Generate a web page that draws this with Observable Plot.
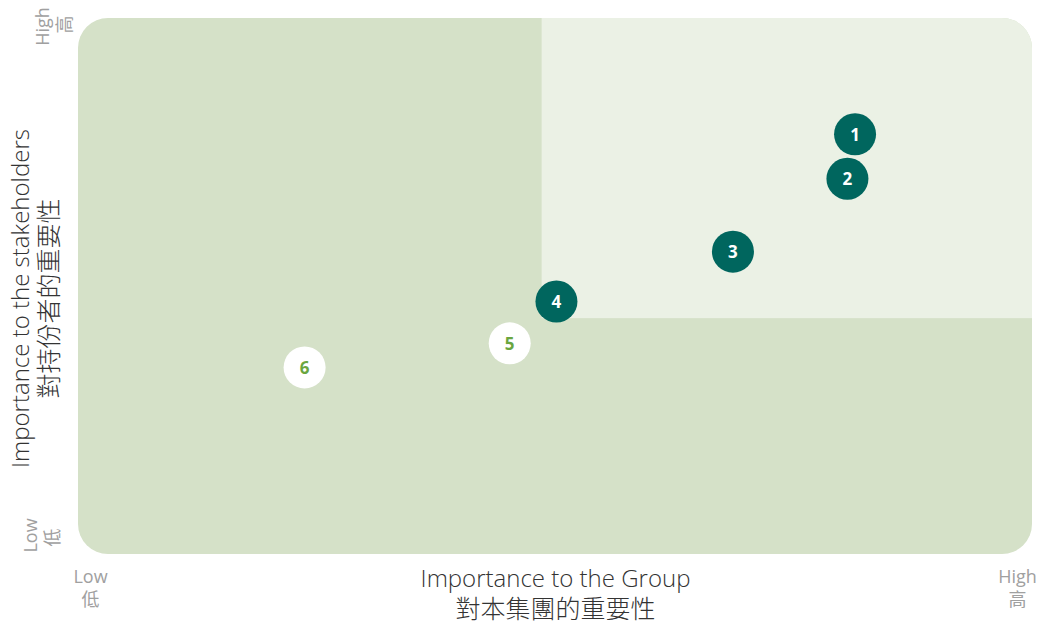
<!DOCTYPE html>
<html>
<head>
<meta charset="utf-8">
<script src="https://cdn.jsdelivr.net/npm/d3@7"></script>
<script src="https://cdn.jsdelivr.net/npm/@observablehq/plot@0.6"></script>
<style>
  html, body { margin: 0; padding: 0; background: #ffffff; }
  #chart svg { display: block; }
</style>
</head>
<body>
<div id="chart"></div>
<script>
// ---- data ----
const ids = ["1", "2", "3", "4", "5", "6"];
const groupImportance = [81.4, 80.6, 68.6, 50.1, 45.2, 23.7];        // x
const stakeholderImportance = [78.4, 70.1, 56.5, 47.2, 39.4, 34.9];  // y
const highlighted = [true, true, true, true, false, false];
const xSplit = 48.6;
const ySplit = 44.0;
const xTitleEn = "Importance to the Group";
const xTitleZh = "對本集團的重要性";
const yTitleEn = "Importance to the stakeholders";
const yTitleZh = "對持份者的重要性";
const lowLabel = ["Low", "低"];
const highLabel = ["High", "高"];

const points = ids.map((id, i) => ({id, x: groupImportance[i], y: stakeholderImportance[i], hi: highlighted[i]}));

// ---- layout / style ----
const W = 1041, H = 624;
const mL = 78, mR = 9, mT = 18, mB = 70;
const radius = 30;
const dark = "#00665e";
const bg = "#d5e1c8";
const light = "#ebf1e5";
const greenText = "#6aa63f";
const grey = "#a0a0a0";
const titleColor = "#333333";
const font = "'Open Sans', 'Noto Sans CJK TC', sans-serif";

const bgRect = [{x1: 0, x2: 100, y1: 0, y2: 100}];
const lightRect = [{x1: xSplit, x2: 100, y1: ySplit, y2: 100}];

const rectOpts = {x1: "x1", x2: "x2", y1: "y1", y2: "y2"};
const endText = {fontSize: 18, fill: grey, textAnchor: "middle"};
const titleText = {fontWeight: 300, fill: titleColor, textAnchor: "middle"};

const chart = Plot.plot({
  width: W,
  height: H,
  marginLeft: mL, marginRight: mR, marginTop: mT, marginBottom: mB,
  x: {domain: [0, 100], axis: null},
  y: {domain: [0, 100], axis: null},
  style: {fontFamily: font, background: "#ffffff", overflow: "visible"},
  marks: [
    Plot.rect(bgRect, {...rectOpts, fill: bg, rx: radius}),
    Plot.rect(lightRect, {...rectOpts, fill: light}),
    Plot.dot(points, {x: "x", y: "y", r: 21, fill: d => d.hi ? dark : "#ffffff", stroke: null}),
    Plot.text(points, {x: "x", y: "y", text: "id", fill: d => d.hi ? "#ffffff" : greenText,
      fontSize: 17, fontWeight: "bold", dy: 1}),
    // x axis title
    Plot.text([xTitleEn], {frameAnchor: "bottom", dy: 25, fontSize: 24, lineAnchor: "middle", ...titleText}),
    Plot.text([xTitleZh], {frameAnchor: "bottom", dy: 55, fontSize: 25, lineAnchor: "middle", ...titleText}),
    // x ends
    Plot.text([lowLabel[0]], {frameAnchor: "bottom-left", dx: 12, dy: 28, ...endText}),
    Plot.text([lowLabel[1]], {frameAnchor: "bottom-left", dx: 12, dy: 51, ...endText}),
    Plot.text([highLabel[0]], {frameAnchor: "bottom-right", dx: -15, dy: 28, ...endText}),
    Plot.text([highLabel[1]], {frameAnchor: "bottom-right", dx: -15, dy: 51, ...endText}),
    // y axis title
    Plot.text([yTitleEn], {frameAnchor: "left", dx: -57, dy: 12, rotate: -90, fontSize: 24, ...titleText}),
    Plot.text([yTitleZh], {frameAnchor: "left", dx: -29, dy: 12, rotate: -90, fontSize: 25, ...titleText}),
    // y ends
    Plot.text([highLabel[0]], {frameAnchor: "top-left", dx: -42, dy: 8, rotate: -90, ...endText}),
    Plot.text([highLabel[1]], {frameAnchor: "top-left", dx: -20, dy: 6, rotate: -90, ...endText}),
    Plot.text([lowLabel[0]], {frameAnchor: "bottom-left", dx: -42, dy: -19, rotate: -90, ...endText}),
    Plot.text([lowLabel[1]], {frameAnchor: "bottom-left", dx: -20, dy: -17, rotate: -90, ...endText})
  ]
});

// clip the light quadrant to the rounded background shape
const svg = d3.select(chart);
svg.insert("defs", ":first-child")
  .append("clipPath").attr("id", "round-frame").attr("clipPathUnits", "userSpaceOnUse")
  .append("rect")
  .attr("x", mL).attr("y", mT)
  .attr("width", W - mL - mR).attr("height", H - mT - mB)
  .attr("rx", radius).attr("ry", radius);
const rectGroups = svg.selectAll('g[aria-label="rect"]').nodes();
if (rectGroups.length > 1) {
  d3.select(rectGroups[1]).selectAll("rect").attr("clip-path", "url(#round-frame)");
}

document.getElementById("chart").appendChild(chart);
</script>
</body>
</html>
